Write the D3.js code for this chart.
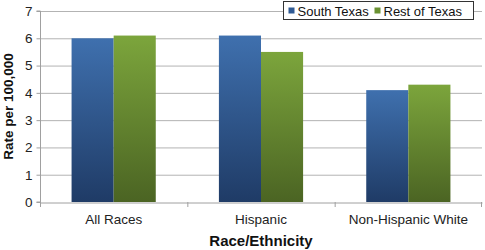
<!DOCTYPE html>
<html lang="en">
<head>
<meta charset="UTF-8">
<script src="https://cdn.jsdelivr.net/npm/d3@7"></script>
<style>
  body { margin: 0; background: #fff; }
  text { font-family: "Liberation Sans", Arial, sans-serif; }
</style>
</head>
<body>
<div id="fig"></div>
<script>
const width = 485, height = 250;

// data
const categories = ["All Races", "Hispanic", "Non-Hispanic White"];
const series = ["South Texas", "Rest of Texas"];
const southTexas = [6.0, 6.1, 4.1];
const restOfTexas = [6.1, 5.5, 4.3];
const yTicks = [0, 1, 2, 3, 4, 5, 6, 7];

const margin = {top: 11, right: 3, bottom: 48, left: 40};

const svg = d3.select("#fig").append("svg")
    .attr("width", width)
    .attr("height", height);

const defs = svg.append("defs");
const grads = [
    {id: "gBlue", top: "#3f70ae", bottom: "#1f3b66"},
    {id: "gGreen", top: "#7ca53c", bottom: "#4b6423"}
];
grads.forEach(g => {
    const lg = defs.append("linearGradient").attr("id", g.id)
        .attr("x1", 0).attr("y1", 0).attr("x2", 0).attr("y2", 1);
    lg.append("stop").attr("offset", "0%").attr("stop-color", g.top);
    lg.append("stop").attr("offset", "100%").attr("stop-color", g.bottom);
});
const fills = ["url(#gBlue)", "url(#gGreen)"];
const legendFills = ["#2f5a94", "#6a9232"];

const x = d3.scaleBand()
    .domain(categories)
    .range([margin.left, width - margin.right])
    .paddingInner(0)
    .paddingOuter(0);

const x1 = d3.scaleBand()
    .domain(series)
    .range([0, x.bandwidth()])
    .paddingOuter(0.75)
    .paddingInner(0);

const y = d3.scaleLinear()
    .domain([0, 7])
    .range([height - margin.bottom, margin.top]);

// gridlines
svg.append("g")
    .selectAll("line")
    .data(yTicks.filter(d => d > 0))
    .join("line")
    .attr("x1", margin.left)
    .attr("x2", width - margin.right)
    .attr("y1", d => y(d) + 0.5)
    .attr("y2", d => y(d) + 0.5)
    .attr("stroke", "#b3b3b3")
    .attr("stroke-width", 1);

// y axis
const yAxis = svg.append("g")
    .attr("transform", `translate(${margin.left + 0.5},0)`)
    .call(d3.axisLeft(y).tickValues(yTicks).tickFormat(d3.format("d")).tickSize(4).tickPadding(4));
yAxis.select(".domain").attr("stroke", "#a0a0a0").attr("d", `M-4,${y(0)}H0V${y(7)}H-4`);
yAxis.selectAll(".tick line").attr("stroke", "#a0a0a0");
yAxis.selectAll("text").attr("font-size", 13.5).attr("fill", "#222");

// bars
const rows = categories.map((c, i) => ({cat: c, vals: [southTexas[i], restOfTexas[i]]}));
const groups = svg.append("g").selectAll("g")
    .data(rows)
    .join("g")
    .attr("transform", d => `translate(${x(d.cat)},0)`);
groups.selectAll("rect")
    .data(d => d.vals.map((v, j) => ({key: series[j], v, j})))
    .join("rect")
    .attr("x", d => x1(d.key))
    .attr("y", d => y(d.v))
    .attr("width", x1.bandwidth())
    .attr("height", d => y(0) - y(d.v))
    .attr("fill", d => fills[d.j]);

// x axis
const xAxis = svg.append("g")
    .attr("transform", `translate(0,${y(0) + 0.5})`)
    .call(d3.axisBottom(x).tickSize(0).tickPadding(12));
xAxis.select(".domain").attr("stroke", "#a0a0a0");
xAxis.selectAll("text").attr("font-size", 13.5).attr("fill", "#222");
// category separators
svg.append("g").selectAll("line")
    .data(categories.concat(["end"]))
    .join("line")
    .attr("x1", (d, i) => i < categories.length ? x(d) + 0.5 : x.range()[1] - 0.5)
    .attr("x2", (d, i) => i < categories.length ? x(d) + 0.5 : x.range()[1] - 0.5)
    .attr("y1", y(0))
    .attr("y2", y(0) + 5)
    .attr("stroke", "#a0a0a0");

// axis titles
svg.append("text")
    .attr("x", (margin.left + width - margin.right) / 2)
    .attr("y", 246)
    .attr("text-anchor", "middle")
    .attr("font-size", 15)
    .attr("font-weight", "bold")
    .attr("fill", "#111")
    .text("Race/Ethnicity");

svg.append("text")
    .attr("transform", `translate(13,${(y(0) + y(7)) / 2}) rotate(-90)`)
    .attr("text-anchor", "middle")
    .attr("font-size", 13.5)
    .attr("font-weight", "bold")
    .attr("fill", "#111")
    .text("Rate per 100,000");

// legend
const legend = svg.append("g").attr("transform", "translate(283.5,1.5)");
legend.append("rect")
    .attr("width", 190).attr("height", 18)
    .attr("fill", "#fff").attr("stroke", "#333").attr("stroke-width", 1);
const lx = [5, 91];
series.forEach((s, i) => {
    legend.append("rect")
        .attr("x", lx[i]).attr("y", 6)
        .attr("width", 6).attr("height", 6)
        .attr("fill", legendFills[i]);
    legend.append("text")
        .attr("x", lx[i] + 9).attr("y", 14)
        .attr("font-size", 13)
        .attr("fill", "#111")
        .text(s);
});
</script>
</body>
</html>
